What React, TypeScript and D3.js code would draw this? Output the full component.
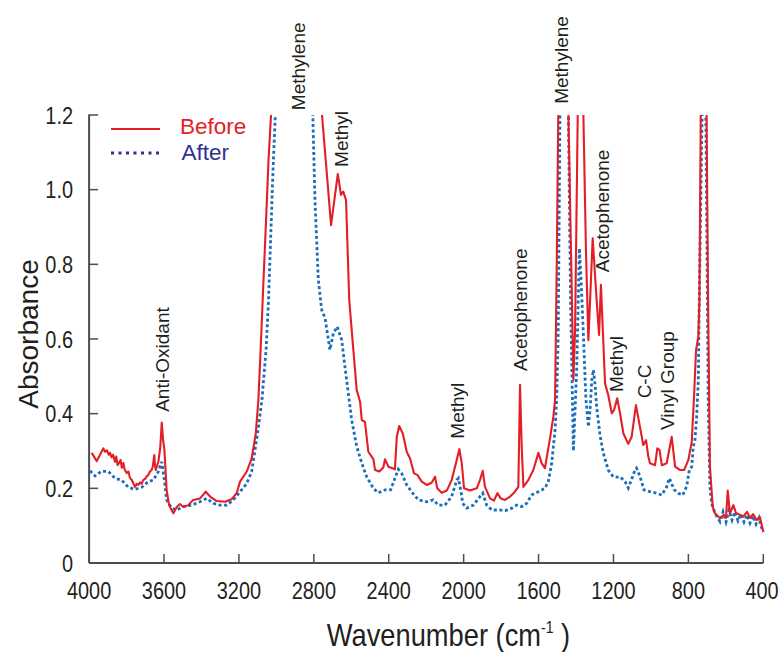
import React from "react";
import * as d3 from "d3";

const xTicks = [4000, 3600, 3200, 2800, 2400, 2000, 1600, 1200, 800, 400];
const yTicks = [0, 0.2, 0.4, 0.6, 0.8, 1.0, 1.2];
const yTickLabels = ["0", "0.2", "0.4", "0.6", "0.8", "1.0", "1.2"];

const beforeSeries: [number, number][] = [
  [3986,0.295],[3959,0.273],[3924,0.307],[3915,0.298],[3905,0.302],[3895,0.290],[3888,0.295],[3880,0.283],[3872,0.290],[3862,0.271],[3855,0.285],[3848,0.262],[3840,0.268],[3832,0.276],[3825,0.255],[3817,0.268],[3810,0.250],[3799,0.241],[3790,0.245],[3782,0.228],[3773,0.223],[3765,0.215],[3755,0.204],[3745,0.212],[3737,0.209],[3728,0.216],[3720,0.212],[3711,0.222],[3700,0.226],[3692,0.232],[3684,0.236],[3675,0.245],[3666,0.249],[3660,0.258],[3652,0.289],[3648,0.262],[3644,0.249],[3636,0.262],[3630,0.271],[3620,0.310],[3612,0.376],[3605,0.330],[3598,0.303],[3586,0.196],[3573,0.155],[3550,0.133],[3532,0.150],[3515,0.158],[3497,0.150],[3470,0.155],[3444,0.169],[3408,0.173],[3377,0.191],[3354,0.178],[3319,0.166],[3274,0.164],[3239,0.171],[3212,0.187],[3194,0.218],[3158,0.245],[3132,0.280],[3110,0.347],[3096,0.437],[3082,0.597],[3071,0.731],[3055,0.919],[3042,1.079],[3029,1.197],[2960,1.6],[2850,1.6],[2758,1.21],[2708,0.905],[2672,1.042],[2655,0.986],[2643,0.995],[2628,0.972],[2611,0.704],[2589,0.571],[2571,0.463],[2553,0.432],[2544,0.383],[2527,0.378],[2509,0.298],[2491,0.285],[2482,0.278],[2473,0.249],[2450,0.245],[2429,0.256],[2420,0.278],[2402,0.258],[2367,0.251],[2357,0.338],[2344,0.367],[2325,0.347],[2304,0.298],[2286,0.280],[2265,0.240],[2247,0.236],[2224,0.218],[2197,0.209],[2171,0.215],[2153,0.231],[2141,0.200],[2117,0.188],[2090,0.194],[2064,0.222],[2037,0.276],[2023,0.305],[2010,0.267],[1998,0.200],[1966,0.194],[1930,0.200],[1913,0.222],[1898,0.247],[1886,0.204],[1859,0.173],[1838,0.167],[1820,0.187],[1802,0.173],[1779,0.169],[1752,0.178],[1726,0.191],[1708,0.204],[1699,0.477],[1690,0.312],[1681,0.204],[1655,0.222],[1628,0.249],[1601,0.295],[1583,0.267],[1566,0.254],[1539,0.334],[1521,0.392],[1512,0.437],[1503,0.794],[1495,1.191],[1470,1.5],[1441,1.21],[1427,0.838],[1414,0.490],[1405,0.624],[1391,1.197],[1375,1.5],[1361,1.21],[1347,0.838],[1334,0.597],[1311,0.870],[1290,0.704],[1277,0.611],[1267,0.745],[1245,0.481],[1228,0.450],[1209,0.401],[1197,0.410],[1180,0.441],[1165,0.401],[1147,0.347],[1121,0.319],[1103,0.338],[1080,0.423],[1062,0.374],[1041,0.316],[1026,0.329],[1014,0.285],[1005,0.267],[978,0.262],[966,0.307],[954,0.303],[942,0.262],[916,0.267],[889,0.338],[871,0.258],[844,0.249],[823,0.249],[800,0.276],[782,0.325],[770,0.445],[759,0.571],[747,0.606],[741,0.704],[734,1.197],[718,1.6],[703,1.21],[695,0.704],[685,0.258],[670,0.151],[658,0.133],[631,0.120],[610,0.129],[599,0.121],[590,0.194],[578,0.133],[560,0.155],[546,0.134],[524,0.129],[507,0.124],[487,0.137],[471,0.121],[455,0.131],[435,0.115],[418,0.123],[400,0.084]
];

const afterSeries: [number, number][] = [
  [3995,0.247],[3968,0.233],[3933,0.246],[3897,0.245],[3862,0.227],[3826,0.222],[3791,0.203],[3755,0.197],[3719,0.203],[3684,0.218],[3657,0.222],[3630,0.245],[3612,0.271],[3598,0.222],[3586,0.169],[3559,0.147],[3532,0.142],[3497,0.151],[3452,0.155],[3408,0.164],[3372,0.173],[3337,0.160],[3301,0.155],[3265,0.155],[3230,0.169],[3194,0.191],[3158,0.213],[3132,0.245],[3114,0.303],[3098,0.356],[3077,0.437],[3055,0.571],[3042,0.704],[3029,0.892],[3018,1.053],[3006,1.197],[2950,1.6],[2860,1.6],[2806,1.21],[2794,0.972],[2776,0.758],[2758,0.678],[2740,0.656],[2714,0.571],[2696,0.615],[2675,0.633],[2651,0.597],[2634,0.526],[2616,0.455],[2598,0.383],[2571,0.312],[2544,0.267],[2518,0.231],[2482,0.200],[2456,0.188],[2420,0.196],[2390,0.196],[2367,0.227],[2349,0.251],[2331,0.240],[2304,0.209],[2272,0.187],[2242,0.169],[2197,0.164],[2162,0.169],[2135,0.155],[2100,0.155],[2064,0.178],[2037,0.222],[2028,0.227],[2016,0.196],[2005,0.160],[1984,0.147],[1948,0.155],[1913,0.178],[1898,0.187],[1877,0.155],[1850,0.142],[1806,0.142],[1779,0.140],[1743,0.147],[1717,0.155],[1690,0.151],[1663,0.160],[1637,0.182],[1601,0.191],[1566,0.200],[1548,0.218],[1530,0.267],[1512,0.356],[1503,0.445],[1495,0.616],[1486,1.197],[1465,1.5],[1441,1.21],[1429,0.704],[1414,0.300],[1396,0.526],[1382,0.843],[1373,0.758],[1361,0.616],[1347,0.437],[1334,0.365],[1325,0.410],[1316,0.490],[1307,0.517],[1298,0.477],[1290,0.419],[1272,0.343],[1254,0.294],[1228,0.249],[1201,0.231],[1181,0.230],[1165,0.231],[1138,0.218],[1121,0.201],[1103,0.224],[1085,0.249],[1077,0.254],[1058,0.231],[1037,0.196],[1005,0.191],[969,0.187],[942,0.182],[916,0.204],[902,0.227],[893,0.217],[877,0.197],[854,0.187],[830,0.182],[809,0.206],[795,0.249],[782,0.258],[774,0.312],[765,0.329],[756,0.392],[747,0.490],[742,0.704],[727,1.197],[716,1.6],[707,1.21],[694,0.437],[685,0.204],[676,0.160],[658,0.133],[631,0.111],[615,0.137],[599,0.110],[583,0.142],[567,0.115],[551,0.137],[535,0.113],[519,0.131],[503,0.110],[487,0.129],[471,0.107],[455,0.126],[439,0.104],[423,0.121],[412,0.099],[400,0.083]
];

// peak annotations: text, wavenumber (baseline), absorbance (start of rotated text)
const peakLabels: [string, number, number][] = [
  ["Anti-Oxidant", 3573, 0.405],
  ["Methylene", 2847, 1.213],
  ["Methyl", 2619, 1.061],
  ["Methyl", 1996, 0.333],
  ["Acetophenone", 1664, 0.514],
  ["Methylene", 1444, 1.23],
  ["Acetophenone", 1222, 0.779],
  ["Methyl", 1147, 0.458],
  ["C-C", 1002, 0.441],
  ["Vinyl Group", 875, 0.356],
];

const seriesNames = ["Before", "After"];

const RED = "#e41e26";
const BLUE = "#1b6fba";
const NAVY = "#2e3192";
const INK = "#231f20";
const SANS = "'Liberation Sans', Arial, sans-serif";
const SQUEEZE = 0.83;

export default function App() {
  const x = d3.scaleLinear().domain([4000, 400]).range([89.1, 763.3]);
  const y = d3.scaleLinear().domain([0, 1.2]).range([563, 115]);
  const line = d3
    .line<[number, number]>()
    .x((d) => x(d[0]))
    .y((d) => y(d[1]));

  const x0 = x(4000);
  const x1 = x(400);
  const yb = y(0);

  return (
    <svg width={780} height={652} style={{ display: "block", position: "absolute", left: 0, top: 0 }}>
      <defs>
        <clipPath id="plotClip">
          <rect x={x0} y={y(1.2)} width={x1 - x0 + 4} height={yb - y(1.2) + 10} />
        </clipPath>
      </defs>
      <rect x={0} y={0} width={780} height={652} fill="#fff" />

      {/* axes */}
      <g stroke="#4d4d4f" fill="none">
        <line x1={x0} y1={y(1.2) - 0.5} x2={x0} y2={yb} strokeWidth={2} />
        <line x1={x0} y1={yb} x2={x1} y2={yb} strokeWidth={2} />
        {yTicks.map((t) => (
          <line key={"yt" + t} x1={x0} x2={x0 + 9} y1={y(t)} y2={y(t)} strokeWidth={1.5} />
        ))}
        {xTicks.map((t) => (
          <line key={"xt" + t} x1={x(t)} x2={x(t)} y1={yb} y2={yb - 9} strokeWidth={1.5} />
        ))}
      </g>

      {/* tick labels */}
      <g fontFamily={SANS} fontSize={24} fill={INK}>
        {yTicks.map((t, i) => (
          <text
            key={"yl" + t}
            transform={`translate(73,${y(t) + 8.5}) scale(${SQUEEZE},1)`}
            textAnchor="end"
          >
            {yTickLabels[i]}
          </text>
        ))}
        {xTicks.map((t) => (
          <text
            key={"xl" + t}
            transform={`translate(${Math.min(x(t), 762)},598.5) scale(${SQUEEZE},1)`}
            textAnchor="middle"
          >
            {t}
          </text>
        ))}
      </g>

      {/* series */}
      <g clipPath="url(#plotClip)" fill="none">
        <path d={line(afterSeries) || ""} stroke={BLUE} strokeWidth={2.8} strokeDasharray="3,2.6" />
        <path d={line(beforeSeries) || ""} stroke={RED} strokeWidth={2.1} strokeLinejoin="round" />
      </g>

      {/* peak labels */}
      <g fontFamily={SANS} fontSize={19} fill={INK}>
        {peakLabels.map(([txt, w, a], i) => (
          <text key={"pl" + i} transform={`translate(${x(w)},${y(a)}) rotate(-90)`} x={0} y={0}>
            {txt}
          </text>
        ))}
      </g>

      {/* legend */}
      <g>
        <line x1={111} x2={160} y1={129} y2={129} stroke={RED} strokeWidth={2.1} />
        <text x={180} y={133.5} fontFamily={SANS} fontSize={22.5} fill={RED}>
          {seriesNames[0]}
        </text>
        <line x1={111} x2={160} y1={153} y2={153} stroke={NAVY} strokeWidth={2.8} strokeDasharray="3,4.5" />
        <text x={181.5} y={159.5} fontFamily={SANS} fontSize={22.5} fill={NAVY}>
          {seriesNames[1]}
        </text>
      </g>

      {/* axis titles */}
      <text
        transform={`translate(37.5,334) rotate(-90)`}
        textAnchor="middle"
        fontFamily={SANS}
        fontSize={28}
        fill={INK}
      >
        Absorbance
      </text>
      <text
        transform={`translate(448.5,646) scale(0.88,1)`}
        textAnchor="middle"
        fontFamily={SANS}
        fontSize={31}
        fill={INK}
      >
        Wavenumber (cm
        <tspan fontSize={16} dy={-13}>-1</tspan>
        <tspan dy={13}> )</tspan>
      </text>
    </svg>
  );
}
